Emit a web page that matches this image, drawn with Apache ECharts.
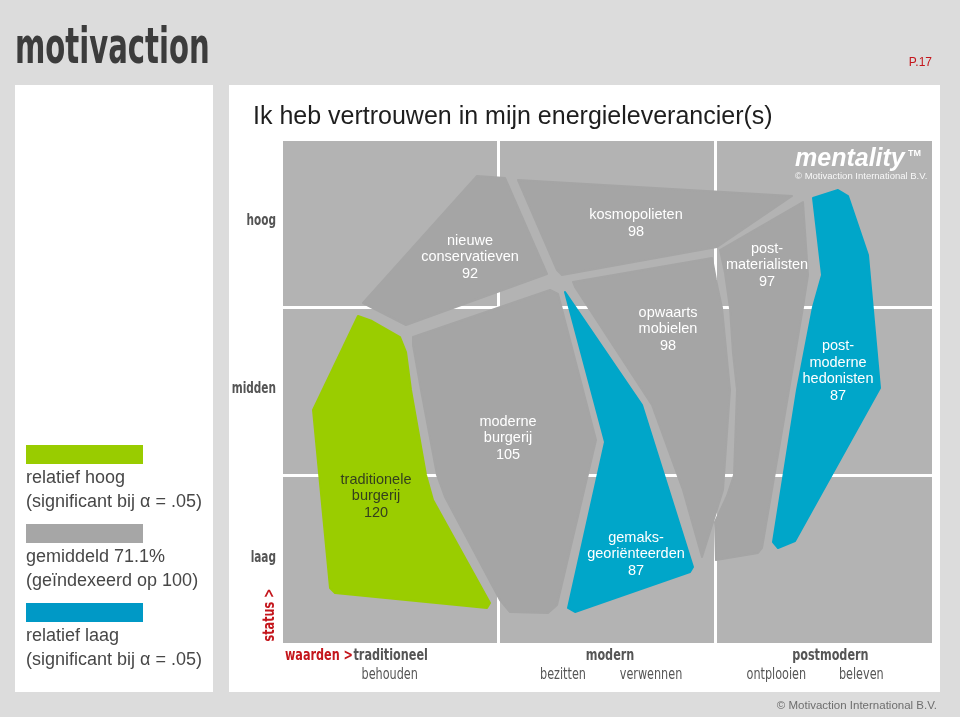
<!DOCTYPE html>
<html><head><meta charset="utf-8">
<script src="https://cdn.jsdelivr.net/npm/echarts@6/dist/echarts.min.js"></script>
<style>html,body{margin:0;padding:0;background:#dcdcdc}#c{width:960px;height:717px}</style>
</head><body><div id="c"></div>
<script>
// ---- data ----
const segments = ['nieuwe conservatieven','kosmopolieten','postmaterialisten','opwaarts mobielen','postmoderne hedonisten','moderne burgerij','traditionele burgerij','gemaksgeoriënteerden'];
const segmentLabels = ['nieuwe\nconservatieven','kosmopolieten','post-\nmaterialisten','opwaarts\nmobielen','post-\nmoderne\nhedonisten','moderne\nburgerij','traditionele\nburgerij','gemaks-\ngeoriënteerden'];
const indexValues = [92, 98, 97, 98, 87, 105, 120, 87];
const significance = ['gem','gem','gem','gem','laag','gem','hoog','laag'];
const statusLabels = ['laag','midden','hoog'];
const valueLabels = ['traditioneel','modern','postmodern'];
const valueSubLabels = [['behouden'],['bezitten','verwennen'],['ontplooien','beleven']];
const legendLabels = ['relatief hoog\n(significant bij α = .05)','gemiddeld 71.1%\n(geïndexeerd op 100)','relatief laag\n(significant bij α = .05)'];
const legendKeys = ['hoog','gem','laag'];
const chartTitle = 'Ik heb vertrouwen in mijn energieleverancier(s)';

// segment map geometry (mentality map units, x: 0-650, y: 0-503 top-down)
const segmentShapes = [
  [[195,36],[223,38],[265,134],[124,185],[81,163]],
  [[236,40],[510,56],[435,107],[280,135],[275,130]],
  [[521,62],[526,135],[521,167],[507,250],[480,408],[476,413],[434,420],[433,382],[445,356],[452,335],[455,250],[451,213],[448,168],[443,133],[438,110]],
  [[291,142],[430,118],[434,140],[440,168],[448,250],[441,350],[420,417],[401,350],[370,265],[293,147]],
  [[531,58],[556,50],[566,56],[586,115],[598,248],[513,401],[496,408],[491,402],[515,250],[531,167],[540,135]],
  [[131,197],[268,150],[276,154],[314,300],[275,465],[266,473],[228,472],[218,460],[163,357],[155,335],[139,250],[131,205]],
  [[76,176],[90,181],[118,197],[124,212],[129,250],[144,335],[151,360],[208,463],[205,468],[53,453],[48,448],[31,270]],
  [[283,152],[360,265],[411,427],[408,432],[293,472],[286,468],[323,302]]
];
const labelAnchors = [[188,117],[354,83.5],[485,125],[386,189],[556,231],[226,298],[94,356],[354,414]];

// ---- styles / layout ----
const fillColors = {hoog:'#9acd00', gem:'#a5a5a5', laag:'#00a6c9'};
const legendColors = {hoog:'#99cc00', gem:'#a6a6a6', laag:'#0099c6'};
const textColors = {hoog:'#34401c', gem:'#ffffff', laag:'#ffffff'};
const ARIAL = '"Liberation Sans", Arial, sans-serif';
const COND = '"DejaVu Sans Condensed", "Liberation Sans Narrow", sans-serif';
const RED = '#c4161c';
const LBL = '#555555';
const NARROW_SCALE = 0.78;
const headOffsets = [1, 3, 6];
const subOffsets = [[0], [-44, 44], [-48, 37]];

const chart = echarts.init(document.getElementById('c'));

const graphics = [
  {type:'rect', z:-100, shape:{x:15,y:85,width:198,height:607}, style:{fill:'#ffffff'}},
  {type:'rect', z:-100, shape:{x:229,y:85,width:711,height:607}, style:{fill:'#ffffff'}},
  {type:'text', x:15, y:50, scaleX:0.66, style:{text:'motivaction', x:0, y:0, font:'bold 49px ' + COND, fill:'#3c3c3c', verticalAlign:'middle'}},
  {type:'text', style:{text:'P.17', x:932, y:63, align:'right', verticalAlign:'middle', font:'12px ' + ARIAL, fill:RED}},
  {type:'text', style:{text:chartTitle, x:253, y:117, verticalAlign:'middle', font:'25px ' + ARIAL, fill:'#1e1e1e'}},
  {type:'text', z:10, style:{text:'mentality', x:795, y:159, verticalAlign:'middle', font:'italic bold 25px ' + ARIAL, fill:'#ffffff'}},
  {type:'text', z:10, style:{text:'TM', x:908, y:154, verticalAlign:'middle', font:'bold 9px ' + ARIAL, fill:'#ffffff'}},
  {type:'text', z:10, style:{text:'© Motivaction International B.V.', x:795, y:176, verticalAlign:'middle', font:'9.5px ' + ARIAL, fill:'rgba(255,255,255,0.9)'}},
  {type:'text', x:285, y:656, scaleX:NARROW_SCALE, style:{text:'waarden >', x:0, y:0, verticalAlign:'middle', font:'bold 16px ' + COND, fill:RED}},
  {type:'text', x:270, y:615, rotation:Math.PI/2, scaleX:NARROW_SCALE, style:{text:'status >', x:0, y:0, align:'center', verticalAlign:'middle', font:'bold 16px ' + COND, fill:RED}},
  {type:'text', style:{text:'© Motivaction International B.V.', x:937, y:706, align:'right', verticalAlign:'middle', font:'11.5px ' + ARIAL, fill:'#6e6e6e'}}
];
const legendTops = [445, 524, 603];
legendKeys.forEach((k, i) => {
  graphics.push({type:'rect', shape:{x:26, y:legendTops[i], width:117, height:19}, style:{fill:legendColors[k]}});
  graphics.push({type:'text', style:{text:legendLabels[i], x:26, y:legendTops[i] + 45, verticalAlign:'middle', font:'18px ' + ARIAL, fill:'#474747', lineHeight:24}});
});

const option = {
  backgroundColor:'#dcdcdc',
  animation:false,
  graphic: graphics,
  grid:{left:281, top:139, width:652, height:505, show:true, backgroundColor:'#b3b3b3', borderWidth:0},
  xAxis:[
    {type:'category', data:valueLabels, position:'bottom', axisLine:{show:false}, axisTick:{show:false},
     splitLine:{show:true, interval:0, lineStyle:{color:'#ffffff', width:3}}, axisLabel:{show:false}},
    {type:'value', min:-1, max:651, show:false}
  ],
  yAxis:[
    {type:'category', data:statusLabels, axisLine:{show:false}, axisTick:{show:false},
     splitLine:{show:true, interval:0, lineStyle:{color:'#ffffff', width:3}}, axisLabel:{show:false}},
    {type:'value', min:-1, max:504, inverse:true, show:false}
  ],
  series:[{
    type:'custom', xAxisIndex:1, yAxisIndex:1, silent:true,
    data: segments.map((s, i) => ({name:s, value:[i, indexValues[i]]})),
    renderItem:(params, api) => {
      const i = params.dataIndex;
      const key = significance[i];
      const pts = segmentShapes[i].map(p => api.coord(p));
      const c = api.coord(labelAnchors[i]);
      const fill = fillColors[key];
      return {type:'group', children:[
        {type:'polygon', shape:{points:pts}, style:{fill:fill, stroke:fill, lineWidth:2, lineJoin:'round'}},
        {type:'text', style:{text:segmentLabels[i] + '\n' + api.value(1), x:c[0], y:c[1], align:'center', verticalAlign:'middle',
          font:'14.5px ' + ARIAL, lineHeight:16.5, fill:textColors[key]}}
      ]};
    }
  }]
};
chart.setOption(option);

// axis category labels, placed at the category-axis positions (condensed lettering)
const axisLabelGraphics = [];
const gridBottom = chart.convertToPixel({yAxisIndex:1}, 504);
valueLabels.forEach((v, i) => {
  const cx = chart.convertToPixel({xAxisIndex:0}, v);
  axisLabelGraphics.push({type:'text', x:cx + headOffsets[i], y:gridBottom + 12, scaleX:NARROW_SCALE,
    style:{text:v, x:0, y:0, align:'center', verticalAlign:'middle', font:'bold 16px ' + COND, fill:LBL}});
  valueSubLabels[i].forEach((s, j) => {
    axisLabelGraphics.push({type:'text', x:cx + subOffsets[i][j], y:gridBottom + 31, scaleX:NARROW_SCALE,
      style:{text:s, x:0, y:0, align:'center', verticalAlign:'middle', font:'16px ' + COND, fill:LBL}});
  });
});
const gridLeft = chart.convertToPixel({xAxisIndex:1}, -1);
statusLabels.forEach((v) => {
  const cy = chart.convertToPixel({yAxisIndex:0}, v);
  axisLabelGraphics.push({type:'text', x:gridLeft - 5, y:cy - 2, scaleX:NARROW_SCALE,
    style:{text:v, x:0, y:0, align:'right', verticalAlign:'middle', font:'bold 15px ' + COND, fill:LBL}});
});
chart.setOption({graphic: graphics.concat(axisLabelGraphics)});
</script>
</body></html>
